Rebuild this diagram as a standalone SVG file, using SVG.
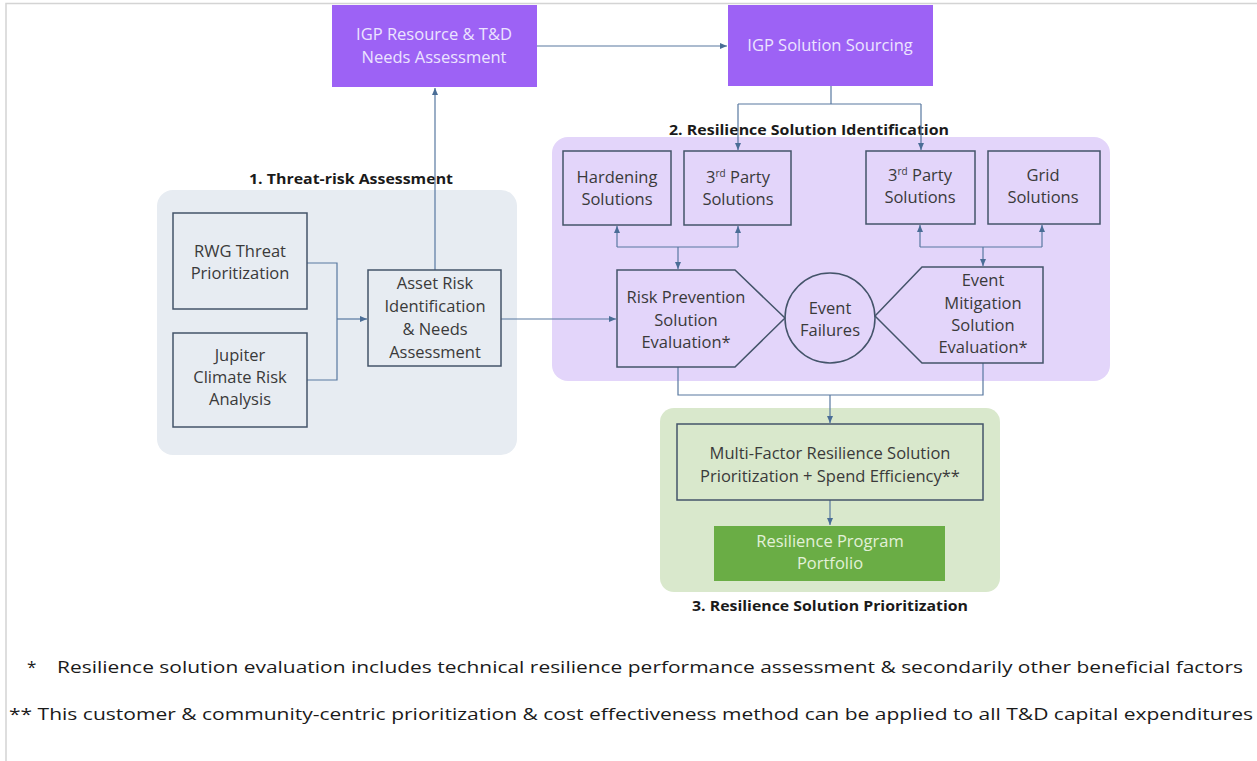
<svg xmlns="http://www.w3.org/2000/svg" width="1257" height="761" viewBox="0 0 1257 761">
<style>
.lbl{font-family:"Open Sans","Liberation Sans",sans-serif;font-size:16.5px;fill:#3a3a3a;text-anchor:middle}
.wl{font-family:"Open Sans","Liberation Sans",sans-serif;font-size:16.5px;fill:#ece4ff;text-anchor:middle}
.gl{font-family:"Open Sans","Liberation Sans",sans-serif;font-size:16.5px;fill:#e2f1d8;text-anchor:middle}
.ttl{font-family:"Open Sans","Liberation Sans",sans-serif;font-size:15px;font-weight:bold;fill:#1a1a1a;text-anchor:middle}
.fn{font-family:"Open Sans","Liberation Sans",sans-serif;font-size:17px;fill:#1a1a1a}
.box{fill:none;stroke:#44546a;stroke-width:1.5}
.con{fill:none;stroke:#5878a0;stroke-width:1.2}
.sup{font-size:10px}
</style>
<defs>
<marker id="ah" markerWidth="7" markerHeight="6" refX="7" refY="3" orient="auto" markerUnits="userSpaceOnUse">
<path d="M0,0 L7,3 L0,6 Z" fill="#4a6d96"/>
</marker>
</defs>
<rect x="0" y="0" width="1257" height="761" fill="#ffffff"/>
<rect x="6" y="3.5" width="1270" height="780" fill="none" stroke="#d4d4d4" stroke-width="1.5"/>

<g id="grp-threat">
<rect x="157" y="190" width="360" height="265" rx="16" fill="#e7ecf2"/>
<text class="ttl" x="351" y="184" textLength="204" lengthAdjust="spacingAndGlyphs">1. Threat-risk Assessment</text>
</g>
<g id="grp-ident">
<rect x="552" y="137" width="558" height="244" rx="16" fill="#e3d5fa"/>
<text class="ttl" x="809" y="135" textLength="280" lengthAdjust="spacingAndGlyphs">2. Resilience Solution Identification</text>
</g>
<g id="grp-prio">
<rect x="660" y="408" width="340" height="184" rx="14" fill="#d9e8cc"/>
<text class="ttl" x="830" y="611" textLength="276" lengthAdjust="spacingAndGlyphs">3. Resilience Solution Prioritization</text>
</g>

<g id="connectors">
<path class="con" d="M537,46 H727" marker-end="url(#ah)"/>
<path class="con" d="M435,270 V88" marker-end="url(#ah)"/>
<path class="con" d="M307,263 H337 V380 H307"/>
<path class="con" d="M337,319 H367" marker-end="url(#ah)"/>
<path class="con" d="M501,319 H616" marker-end="url(#ah)"/>
<path class="con" d="M831,86 V104"/>
<path class="con" d="M738,104 H921"/>
<path class="con" d="M738,104 V150" marker-end="url(#ah)"/>
<path class="con" d="M921,104 V150" marker-end="url(#ah)"/>
<path class="con" d="M617,247 H738"/>
<path class="con" d="M617,247 V226" marker-end="url(#ah)"/>
<path class="con" d="M738,247 V226" marker-end="url(#ah)"/>
<path class="con" d="M678,247 V269" marker-end="url(#ah)"/>
<path class="con" d="M920,247 H1042"/>
<path class="con" d="M920,247 V225" marker-end="url(#ah)"/>
<path class="con" d="M1042,247 V225" marker-end="url(#ah)"/>
<path class="con" d="M983,247 V266" marker-end="url(#ah)"/>
<path class="con" d="M678,367 V395 H983 V363"/>
<path class="con" d="M830,395 V423" marker-end="url(#ah)"/>
<path class="con" d="M830,500 V525" marker-end="url(#ah)"/>
</g>

<g id="n-igp-resource">
<rect x="332" y="5" width="205" height="82" fill="#9d62f5"/>
<text class="wl" x="434" y="40">IGP Resource &amp; T&amp;D</text>
<text class="wl" x="434" y="63">Needs Assessment</text>
</g>
<g id="n-igp-sourcing">
<rect x="728" y="5" width="205" height="81" fill="#9d62f5"/>
<text class="wl" x="830" y="51">IGP Solution Sourcing</text>
</g>

<g id="n-rwg">
<rect class="box" x="173" y="213" width="134" height="96"/>
<text class="lbl" x="240" y="257">RWG Threat</text>
<text class="lbl" x="240" y="279">Prioritization</text>
</g>
<g id="n-jupiter">
<rect class="box" x="173" y="333" width="134" height="94"/>
<text class="lbl" x="240" y="361">Jupiter</text>
<text class="lbl" x="240" y="383">Climate Risk</text>
<text class="lbl" x="240" y="405">Analysis</text>
</g>
<g id="n-asset">
<rect class="box" x="368" y="270" width="133" height="96"/>
<text class="lbl" x="435" y="289">Asset Risk</text>
<text class="lbl" x="435" y="312">Identification</text>
<text class="lbl" x="435" y="335">&amp; Needs</text>
<text class="lbl" x="435" y="358">Assessment</text>
</g>

<g id="n-hardening">
<rect class="box" x="563" y="151" width="108" height="74"/>
<text class="lbl" x="617" y="183">Hardening</text>
<text class="lbl" x="617" y="205">Solutions</text>
</g>
<g id="n-3rd-left">
<rect class="box" x="684" y="151" width="107" height="74"/>
<text class="lbl" x="738" y="183">3<tspan class="sup" dy="-6">rd</tspan><tspan dy="6"> Party</tspan></text>
<text class="lbl" x="738" y="205">Solutions</text>
</g>
<g id="n-3rd-right">
<rect class="box" x="866" y="151" width="109" height="73"/>
<text class="lbl" x="920" y="181">3<tspan class="sup" dy="-6">rd</tspan><tspan dy="6"> Party</tspan></text>
<text class="lbl" x="920" y="203">Solutions</text>
</g>
<g id="n-grid">
<rect class="box" x="988" y="151" width="112" height="73"/>
<text class="lbl" x="1043" y="181">Grid</text>
<text class="lbl" x="1043" y="203">Solutions</text>
</g>

<g id="n-risk-prevention">
<path class="box" d="M617,270 H735 L785,318 L735,367 H617 Z"/>
<text class="lbl" x="686" y="303">Risk Prevention</text>
<text class="lbl" x="686" y="326">Solution</text>
<text class="lbl" x="686" y="348">Evaluation*</text>
</g>
<g id="n-event-failures">
<circle class="box" cx="830" cy="318" r="45"/>
<text class="lbl" x="830" y="314">Event</text>
<text class="lbl" x="830" y="336">Failures</text>
</g>
<g id="n-event-mitigation">
<path class="box" d="M875,316 L922,267 H1043 V363 H922 Z"/>
<text class="lbl" x="983" y="286">Event</text>
<text class="lbl" x="983" y="309">Mitigation</text>
<text class="lbl" x="983" y="331">Solution</text>
<text class="lbl" x="983" y="353">Evaluation*</text>
</g>

<g id="n-multifactor">
<rect class="box" x="677" y="424" width="306" height="76"/>
<text class="lbl" x="830" y="459">Multi-Factor Resilience Solution</text>
<text class="lbl" x="830" y="482">Prioritization + Spend Efficiency**</text>
</g>
<g id="n-portfolio">
<rect x="714" y="526" width="231" height="55" fill="#6aad45"/>
<text class="gl" x="830" y="547">Resilience Program</text>
<text class="gl" x="830" y="569">Portfolio</text>
</g>

<g id="footnotes">
<text class="fn" x="27" y="673">*</text>
<text class="fn" x="57" y="673" textLength="1186" lengthAdjust="spacingAndGlyphs">Resilience solution evaluation includes technical resilience performance assessment &amp; secondarily other beneficial factors</text>
<text class="fn" x="9" y="720" textLength="1244" lengthAdjust="spacingAndGlyphs">** This customer &amp; community-centric prioritization &amp; cost effectiveness method can be applied to all T&amp;D capital expenditures</text>
</g>
</svg>
